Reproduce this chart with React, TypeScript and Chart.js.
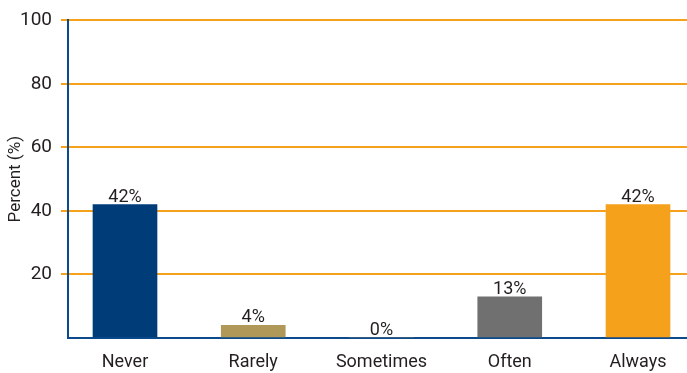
import React, { useEffect, useRef } from "react";
import { Chart, registerables } from "chart.js";

Chart.register(...registerables);

const categories = ["Never", "Rarely", "Sometimes", "Often", "Always"];
const values = [42, 4, 0, 13, 42];
const barColors = ["#003c78", "#b09858", "#b09858", "#707070", "#f5a11c"];
const yTicks = [20, 40, 60, 80, 100];
const yTitle = "Percent (%)";

const FONT = "Roboto, 'Liberation Sans', sans-serif";
const TEXT = "#231f20";
const ORANGE = "#f5a11c";
const BLUE = "#0d4a8c";

const labelPlugin = {
  id: "valueLabels",
  afterDatasetsDraw(chart: any) {
    const ctx = chart.ctx;
    const meta = chart.getDatasetMeta(0);
    ctx.save();
    ctx.font = `18px ${FONT}`;
    ctx.fillStyle = TEXT;
    ctx.textAlign = "center";
    ctx.textBaseline = "alphabetic";
    meta.data.forEach((bar: any, i: number) => {
      ctx.fillText(values[i] + "%", bar.x, bar.y - 3);
    });
    ctx.restore();
  },
};

export default function App() {
  const ref = useRef<HTMLCanvasElement>(null);
  useEffect(() => {
    document.body.style.margin = "0";
    const chart = new Chart(ref.current!, {
      type: "bar",
      data: {
        datasets: [
          {
            data: values.map((v, i) => ({ x: i, y: v })),
            backgroundColor: barColors,
            barThickness: 64,
          },
        ],
      },
      options: {
        animation: false,
        responsive: false,
        layout: { padding: { top: 17, right: 0, left: 0, bottom: 0 } },
        plugins: { legend: { display: false }, tooltip: { enabled: false } },
        scales: {
          x: {
            type: "linear",
            offset: false,
            bounds: "data",
            min: -57 / 128.25,
            max: 4 + 49 / 128.25,
            afterBuildTicks: (axis: any) => {
              axis.ticks = categories.map((_, i) => ({ value: i }));
            },
            afterFit: (scale: any) => {
              scale.height = 35;
            },
            grid: { display: false, drawTicks: false, offset: false },
            border: { color: BLUE, width: 2 },
            ticks: {
              autoSkip: false,
              maxRotation: 0,
              padding: 14,
              color: TEXT,
              font: { family: FONT, size: 18 },
              callback: (v: any) => categories[v] ?? "",
            },
          },
          y: {
            min: 0,
            max: 100,
            afterBuildTicks: (axis: any) => {
              axis.ticks = [0, ...yTicks].map((v) => ({ value: v }));
            },
            afterFit: (scale: any) => {
              scale.width = 68;
            },
            grid: {
              color: (c: any) => (c.tick && c.tick.value === 0 ? "rgba(0,0,0,0)" : ORANGE),
              lineWidth: 2,
              tickLength: 7,
              drawTicks: true,
            },
            border: { color: BLUE, width: 2 },
            ticks: {
              padding: 9,
              color: TEXT,
              font: { family: FONT, size: 19 },
              callback: (v: any) => (v === 0 ? "" : String(v)),
            },
            title: {
              display: true,
              text: yTitle,
              color: TEXT,
              font: { family: FONT, size: 17 },
              padding: { top: 6, bottom: 0 },
            },
          },
        },
      },
      plugins: [labelPlugin],
    } as any);
    return () => chart.destroy();
  }, []);
  return (
    <div style={{ width: 687, height: 373 }}>
      <canvas ref={ref} width={687} height={373} style={{ display: "block" }} />
    </div>
  );
}
